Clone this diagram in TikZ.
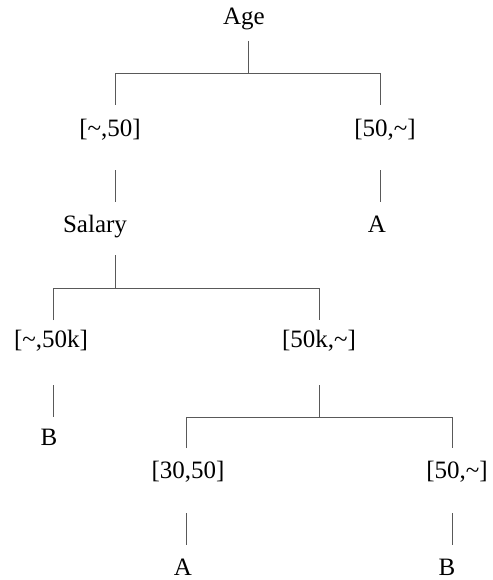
\documentclass[tikz,border=0pt]{standalone}
\usepackage{fontspec}
\setmainfont{Liberation Serif}
\begin{document}
\begin{tikzpicture}[x=1bp,y=-1bp,
  lbl/.style={anchor=base,inner sep=0pt,font=\fontsize{25bp}{30bp}\selectfont},
  conn/.style={draw=black!65,line width=0.9bp}]
\useasboundingbox (0,0) rectangle (493,580);
% texts
\node[lbl] (age) at (244,25) {Age};
\node[lbl] (l1) at (110,137) {[\textasciitilde,50]};
\node[lbl] (r1) at (385,137) {[50,\textasciitilde]};
\node[lbl] (sal) at (95,232) {Salary};
\node[lbl] (a1) at (377,232) {A};
\node[lbl] (l2) at (51,347) {[\textasciitilde,50k]};
\node[lbl] (r2) at (319,347) {[50k,\textasciitilde]};
\node[lbl] (b1) at (49,445) {B};
\node[lbl] (l3) at (188,478) {[30,50]};
\node[lbl] (r3) at (457,478) {[50,\textasciitilde]};
\node[lbl] (a2) at (183,575) {A};
\node[lbl] (b2) at (447,575) {B};
% connector endpoints
\coordinate (ageB) at (248,41);
\coordinate (j1) at (248,73);
\coordinate (j1l) at (115,73);
\coordinate (j1r) at (380,73);
\coordinate (l1T) at (115,105);
\coordinate (r1T) at (380,105);
\coordinate (l1B) at (115,170);
\coordinate (r1B) at (380,170);
\coordinate (salT) at (115,202);
\coordinate (a1T) at (380,202);
\coordinate (salB) at (115,255);
\coordinate (j2) at (115,288);
\coordinate (j2l) at (53,288);
\coordinate (j2r) at (319,288);
\coordinate (l2T) at (53,320);
\coordinate (r2T) at (319,320);
\coordinate (l2B) at (53,385);
\coordinate (r2B) at (319,385);
\coordinate (b1T) at (53,417);
\coordinate (j3) at (319,417);
\coordinate (j3l) at (186,417);
\coordinate (j3r) at (452,417);
\coordinate (l3T) at (186,448);
\coordinate (r3T) at (452,448);
\coordinate (l3B) at (186,513);
\coordinate (r3B) at (452,513);
\coordinate (a2T) at (186,545);
\coordinate (b2T) at (452,545);
% connectors
\draw[conn] (ageB) -- (j1);
\draw[conn] (l1T) -- (j1l) -- (j1r) -- (r1T);
\draw[conn] (l1B) -- (salT);
\draw[conn] (r1B) -- (a1T);
\draw[conn] (salB) -- (j2);
\draw[conn] (l2T) -- (j2l) -- (j2r) -- (r2T);
\draw[conn] (l2B) -- (b1T);
\draw[conn] (r2B) -- (j3);
\draw[conn] (l3T) -- (j3l) -- (j3r) -- (r3T);
\draw[conn] (l3B) -- (a2T);
\draw[conn] (r3B) -- (b2T);
\end{tikzpicture}
\end{document}
